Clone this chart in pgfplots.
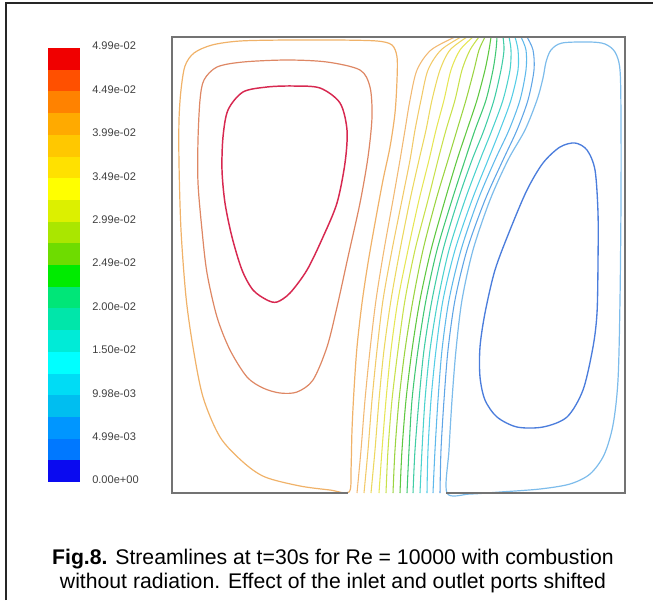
\documentclass[border=0pt]{standalone}
\usepackage{pgfplots}
\pgfplotsset{compat=1.18}
\usepackage{pgfplotstable}
\usepackage{fontspec}
\setmainfont{Liberation Sans}

% colour bar bands, from the bottom band (0) to the top band (19)
\definecolor{b0}{RGB}{10,10,240}
\definecolor{b1}{RGB}{0,120,255}
\definecolor{b2}{RGB}{0,150,255}
\definecolor{b3}{RGB}{0,190,240}
\definecolor{b4}{RGB}{0,220,245}
\definecolor{b5}{RGB}{0,255,255}
\definecolor{b6}{RGB}{0,235,215}
\definecolor{b7}{RGB}{0,230,170}
\definecolor{b8}{RGB}{0,230,120}
\definecolor{b9}{RGB}{0,235,0}
\definecolor{b10}{RGB}{110,220,0}
\definecolor{b11}{RGB}{170,230,0}
\definecolor{b12}{RGB}{220,240,0}
\definecolor{b13}{RGB}{255,255,0}
\definecolor{b14}{RGB}{255,225,0}
\definecolor{b15}{RGB}{255,200,0}
\definecolor{b16}{RGB}{255,170,0}
\definecolor{b17}{RGB}{255,130,0}
\definecolor{b18}{RGB}{255,80,0}
\definecolor{b19}{RGB}{240,0,0}

% streamline colours
\definecolor{cRed}{RGB}{215,40,80}
\definecolor{cBrown}{RGB}{222,135,100}
\definecolor{cOrange}{RGB}{240,178,105}
\definecolor{c0}{RGB}{242,185,115}
\definecolor{c1}{RGB}{242,202,105}
\definecolor{c2}{RGB}{236,216,95}
\definecolor{c3}{RGB}{230,230,85}
\definecolor{c4}{RGB}{200,225,75}
\definecolor{c5}{RGB}{155,212,65}
\definecolor{c6}{RGB}{95,200,65}
\definecolor{c7}{RGB}{65,200,115}
\definecolor{c8}{RGB}{65,205,165}
\definecolor{c9}{RGB}{75,210,205}
\definecolor{c10}{RGB}{85,205,230}
\definecolor{c11}{RGB}{95,185,235}
\definecolor{c12}{RGB}{95,165,230}
\definecolor{cLB}{RGB}{125,188,235}
\definecolor{cBlue}{RGB}{75,125,220}
\definecolor{frame}{RGB}{115,115,115}

% open streamlines running from the inlet (top) to the outlet (bottom)
\pgfplotstableread{
y   x0  x1  x2  x3  x4  x5  x6  x7  x8  x9  x10 x11 x12
37  455 461 467 473 479 485 491 497 503 509 515 521 527
50  431 441 450 460 470 479 489 496 504 511 518 526 533
70  417 428 440 451 462 474 485 493 501 510 518 526 534
100 410 421 432 444 455 466 477 486 494 503 511 520 528
130 405 415 426 436 446 457 467 475 484 492 500 509 517
160 400 410 419 429 438 448 457 465 472 480 488 495 503
200 393 402 410 419 428 436 445 452 458 465 472 478 485
250 384 392 400 408 415 423 431 437 443 449 455 461 467
300 376 383 391 398 405 413 420 426 432 438 443 449 455
350 370 377 384 391 398 405 412 418 424 430 436 442 448
400 365 372 379 386 392 399 406 412 419 425 431 438 444
450 361 368 375 382 388 395 402 409 415 422 428 435 441
493 357 364 371 379 386 393 400 407 413 420 427 433 440
}\band

\begin{document}
\begin{tikzpicture}
\begin{scope}[x=0.75pt, y=-0.75pt]
  \path[use as bounding box] (0,0) rectangle (653,600);
  \draw[line width=1.5pt, black!85] (6,600) -- (6,3) -- (653,3);
  \node[anchor=base, inner sep=0pt, font=\fontsize{15.9pt}{19pt}\selectfont] at (333,564)
    {\textbf{Fig.8.} Streamlines at t=30s for Re = 10000 with combustion};
  \node[anchor=base, inner sep=0pt, font=\fontsize{15.9pt}{19pt}\selectfont] at (333,588.5)
    {without radiation. Effect of the inlet and outlet ports shifted};
\end{scope}

% colour bar
\begin{axis}[
  at={(36pt,-36pt)}, anchor=north west,
  width=24pt, height=325.5pt, scale only axis,
  xmin=0, xmax=1, ymin=0, ymax=20,
  axis line style={draw=none},
  xtick=\empty,
  ytick={0,2,...,20},
  yticklabels={0.00e+00,4.99e-03,9.98e-03,1.50e-02,2.00e-02,2.49e-02,2.99e-02,3.49e-02,3.99e-02,4.49e-02,4.99e-02},
  yticklabel pos=right,
  major tick length=0pt,
  yticklabel style={font=\fontsize{8.3pt}{9pt}\selectfont, text=black!75,
    anchor=west, inner sep=0pt, xshift=9pt, yshift=1.5pt},
]
\addplot[draw=none, fill=b0]  coordinates {(0,0) (1,0) (1,1) (0,1)};
\addplot[draw=none, fill=b1]  coordinates {(0,1) (1,1) (1,2) (0,2)};
\addplot[draw=none, fill=b2]  coordinates {(0,2) (1,2) (1,3) (0,3)};
\addplot[draw=none, fill=b3]  coordinates {(0,3) (1,3) (1,4) (0,4)};
\addplot[draw=none, fill=b4]  coordinates {(0,4) (1,4) (1,5) (0,5)};
\addplot[draw=none, fill=b5]  coordinates {(0,5) (1,5) (1,6) (0,6)};
\addplot[draw=none, fill=b6]  coordinates {(0,6) (1,6) (1,7) (0,7)};
\addplot[draw=none, fill=b7]  coordinates {(0,7) (1,7) (1,8) (0,8)};
\addplot[draw=none, fill=b8]  coordinates {(0,8) (1,8) (1,9) (0,9)};
\addplot[draw=none, fill=b9]  coordinates {(0,9) (1,9) (1,10) (0,10)};
\addplot[draw=none, fill=b10] coordinates {(0,10) (1,10) (1,11) (0,11)};
\addplot[draw=none, fill=b11] coordinates {(0,11) (1,11) (1,12) (0,12)};
\addplot[draw=none, fill=b12] coordinates {(0,12) (1,12) (1,13) (0,13)};
\addplot[draw=none, fill=b13] coordinates {(0,13) (1,13) (1,14) (0,14)};
\addplot[draw=none, fill=b14] coordinates {(0,14) (1,14) (1,15) (0,15)};
\addplot[draw=none, fill=b15] coordinates {(0,15) (1,15) (1,16) (0,16)};
\addplot[draw=none, fill=b16] coordinates {(0,16) (1,16) (1,17) (0,17)};
\addplot[draw=none, fill=b17] coordinates {(0,17) (1,17) (1,18) (0,18)};
\addplot[draw=none, fill=b18] coordinates {(0,18) (1,18) (1,19) (0,19)};
\addplot[draw=none, fill=b19] coordinates {(0,19) (1,19) (1,20) (0,20)};
\end{axis}

% cavity with streamlines
\begin{axis}[
  at={(129pt,-27.75pt)}, anchor=north west,
  width=339.75pt, height=342pt, scale only axis,
  xmin=172, xmax=625, ymin=37, ymax=493, y dir=reverse,
  hide axis, clip=false,
]
% left vortex
\addplot[smooth cycle, draw=cRed, line width=1.1pt] coordinates {
  (293,86) (320,88) (340,103) (347,130) (345,163) (337,203) (323,237) (307,270)
  (290,293) (277,302) (267,300) (253,290) (242,270) (232,237) (225,203) (222,170)
  (223,137) (228,110) (243,92) (267,87)};
\addplot[smooth cycle, draw=cBrown, line width=0.9pt] coordinates {
  (287,60) (327,62) (360,70) (370,87) (372,117) (368,157) (360,203) (348,257)
  (337,307) (327,347) (313,380) (297,392) (280,393) (263,388) (247,377) (230,350)
  (217,317) (207,273) (202,230) (198,183) (198,140) (200,100) (204,80) (217,67) (243,62)};
\addplot[smooth cycle, draw=cOrange, line width=0.9pt] coordinates {
  (349,492) (351,470) (352,430) (354,390) (357,347) (362,303) (368,263) (375,223)
  (383,180) (390,147) (395,113) (397,80) (397,57) (392,45) (377,41) (337,40)
  (287,40) (240,41) (212,45) (194,53) (185,66) (181,90) (179,120) (179,163) (181,230)
  (186,297) (193,347) (203,397) (220,437) (243,462) (265,477) (300,486) (330,490)};
% through-flow streamlines
\addplot[smooth, draw=c0,  line width=0.8pt] table[x=x0,  y=y] {\band};
\addplot[smooth, draw=c1,  line width=0.8pt] table[x=x1,  y=y] {\band};
\addplot[smooth, draw=c2,  line width=0.8pt] table[x=x2,  y=y] {\band};
\addplot[smooth, draw=c3,  line width=0.8pt] table[x=x3,  y=y] {\band};
\addplot[smooth, draw=c4,  line width=0.8pt] table[x=x4,  y=y] {\band};
\addplot[smooth, draw=c5,  line width=0.8pt] table[x=x5,  y=y] {\band};
\addplot[smooth, draw=c6,  line width=0.8pt] table[x=x6,  y=y] {\band};
\addplot[smooth, draw=c7,  line width=0.8pt] table[x=x7,  y=y] {\band};
\addplot[smooth, draw=c8,  line width=0.8pt] table[x=x8,  y=y] {\band};
\addplot[smooth, draw=c9,  line width=0.8pt] table[x=x9,  y=y] {\band};
\addplot[smooth, draw=c10, line width=0.8pt] table[x=x10, y=y] {\band};
\addplot[smooth, draw=c11, line width=0.8pt] table[x=x11, y=y] {\band};
\addplot[smooth, draw=c12, line width=0.8pt] table[x=x12, y=y] {\band};
% right vortex
\addplot[smooth cycle, draw=cLB, line width=0.9pt] coordinates {
  (447,493) (449,450) (452,400) (456,350) (462,300) (473,250) (490,200) (508,160)
  (525,130) (537,100) (543,78) (546,62) (551,50) (562,43) (590,42) (605,44)
  (615,52) (620,70) (621,120) (621,200) (620,300) (618,380) (613,425) (604,455)
  (590,474) (570,484) (540,489) (500,492) (470,494)};
\addplot[smooth cycle, draw=cBlue, line width=1pt] coordinates {
  (575,143) (587,150) (595,170) (598,213) (598,263) (597,313) (593,347) (583,390)
  (567,417) (543,427) (517,427) (497,417) (485,400) (480,377) (480,347) (485,313)
  (495,270) (510,230) (527,190) (543,163) (560,147)};
% cavity walls, open at the outlet port
\addplot[draw=frame, line width=1.5pt] coordinates {
  (348,493) (172,493) (172,37) (625,37) (625,493) (446,493)};
\end{axis}
\end{tikzpicture}
\end{document}
